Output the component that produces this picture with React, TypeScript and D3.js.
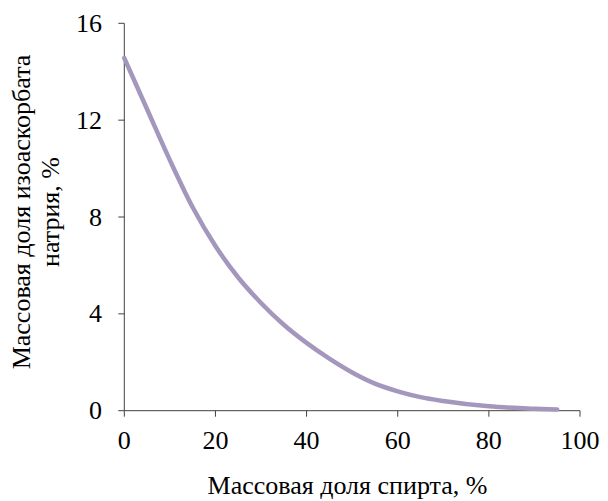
import * as d3 from "d3";

// alcohol mass fraction, % (x) vs sodium isoascorbate mass fraction, % (y)
const alcohol = [0, 5, 10, 15, 20, 25, 30, 35, 40, 45, 50, 55, 60, 65, 70, 80, 90, 95];
const isoascorbate = [14.56, 12.45, 10.35, 8.4, 6.8, 5.5, 4.45, 3.55, 2.8, 2.15, 1.58, 1.12, 0.8, 0.56, 0.4, 0.18, 0.08, 0.05];

const xTicks = [0, 20, 40, 60, 80, 100];
const yTicks = [0, 4, 8, 12, 16];

const W = 608;
const H = 501;
const font = "Liberation Serif, DejaVu Serif, serif";

export default function App() {
  const x = d3.scaleLinear().domain([0, 100]).range([124.3, 580]);
  const y = d3.scaleLinear().domain([0, 16]).range([410.7, 23.3]);

  const points = alcohol.map((a, i) => [a, isoascorbate[i]] as [number, number]);
  const line = d3
    .line<[number, number]>()
    .x((d) => x(d[0]))
    .y((d) => y(d[1]))
    .curve(d3.curveMonotoneX);

  const axisColor = "#404040";
  const fs = 26;

  return (
    <div style={{ position: "absolute", left: 0, top: 0 }}>
      <svg width={W} height={H} fontFamily={font} fontSize={fs} style={{ display: "block", background: "#fff" }}>
        {/* y axis */}
        <line x1={x(0)} x2={x(0)} y1={y(0)} y2={y(16)} stroke={axisColor} strokeWidth={1} />
        {yTicks.map((t) => (
          <g key={"y" + t}>
            <line x1={x(0) - 6} x2={x(0)} y1={y(t)} y2={y(t)} stroke={axisColor} />
            <text x={102} y={y(t) + 8.5} textAnchor="end" fill="#000">
              {t}
            </text>
          </g>
        ))}

        {/* x axis */}
        <line x1={x(0)} x2={x(100)} y1={y(0)} y2={y(0)} stroke={axisColor} strokeWidth={1} />
        {xTicks.map((t) => (
          <g key={"x" + t}>
            <line x1={x(t)} x2={x(t)} y1={y(0)} y2={y(0) + 6} stroke={axisColor} />
            <text x={x(t)} y={449} textAnchor="middle" fill="#000">
              {t}
            </text>
          </g>
        ))}

        {/* data line */}
        <path
          d={line(points) ?? ""}
          fill="none"
          stroke="#a497bd"
          strokeWidth={4.5}
          strokeLinecap="round"
          strokeLinejoin="round"
        />

        {/* axis titles */}
        <text x={347.5} y={494} textAnchor="middle" fill="#000">
          Массовая доля спирта, %
        </text>
        <g transform={`translate(29.5, 212) rotate(-90)`}>
          <text x={0} y={0} textAnchor="middle" fill="#000">
            Массовая доля изоаскорбата
          </text>
          <text x={0} y={29} textAnchor="middle" fill="#000">
            натрия, %
          </text>
        </g>
      </svg>
    </div>
  );
}
